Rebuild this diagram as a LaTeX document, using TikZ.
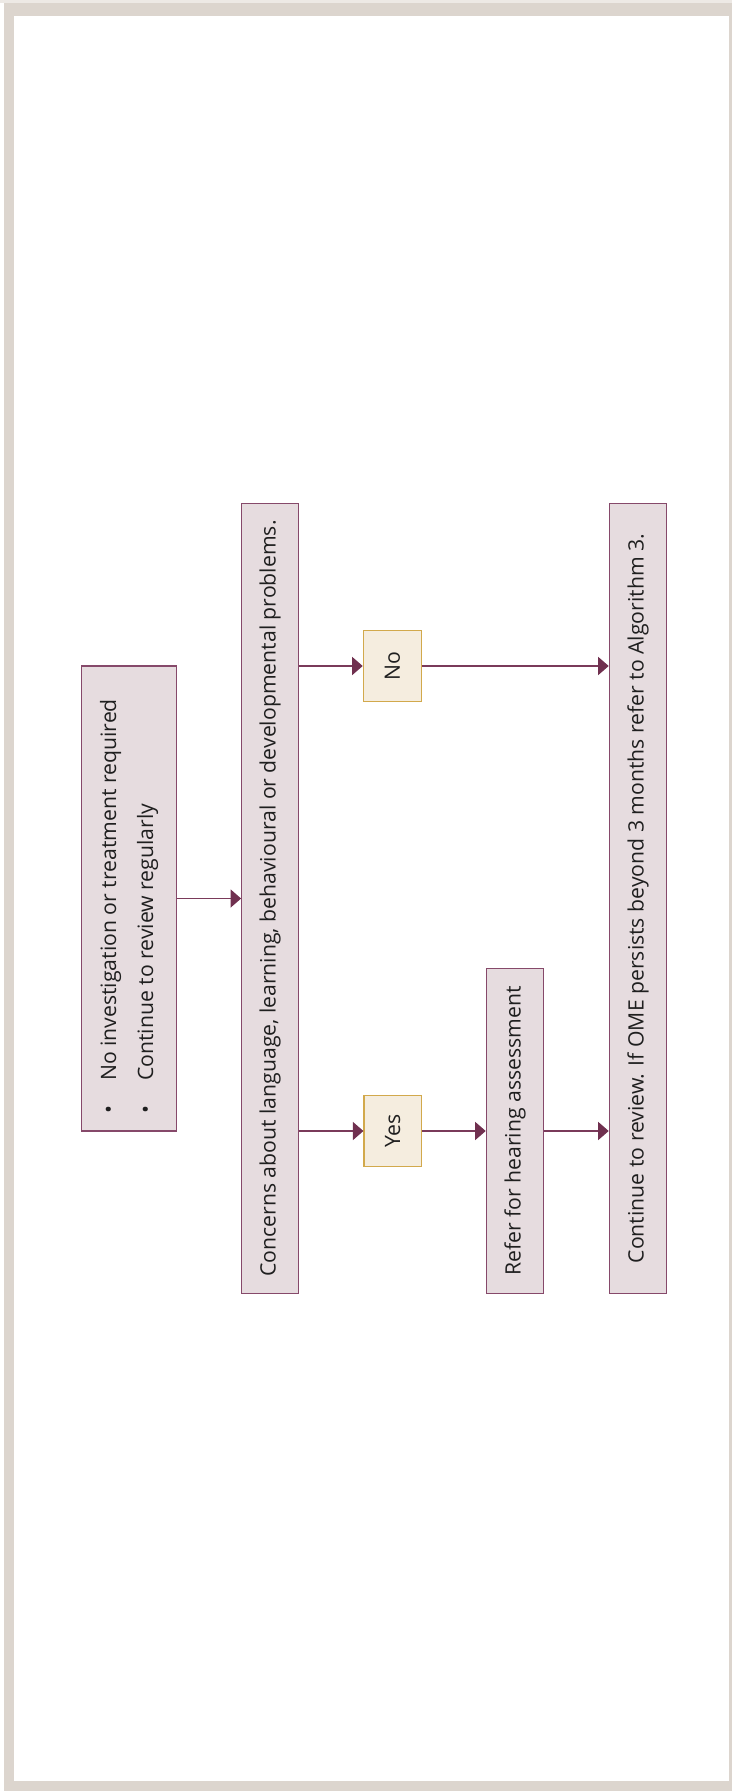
\documentclass[tikz,border=0pt]{standalone}
\usepackage{fontspec}
\setmainfont{Open Sans}
\usetikzlibrary{arrows.meta}

\definecolor{framebg}{HTML}{DCD5CE}
\definecolor{frameedge}{HTML}{EDE9E5}
\definecolor{boxfill}{HTML}{E6DCDF}
\definecolor{boxline}{HTML}{86496A}
\definecolor{decfill}{HTML}{F5EDDF}
\definecolor{decline}{HTML}{D2A94C}
\definecolor{flow}{HTML}{7A3A5A}
\definecolor{tipcol}{HTML}{70304F}

\newcommand{\bulletitem}{\makebox[33pt][l]{\textbullet}}

\begin{document}
\begin{tikzpicture}[x=1pt,y=-1pt,
  every node/.style={font=\fontsize{21.2}{37}\selectfont, text=black!88},
  stepbox/.style={draw=boxline, fill=boxfill, line width=1.2pt, rotate=90, inner sep=0pt},
  decbox/.style={draw=decline, fill=decfill, line width=1.2pt, rotate=90, inner sep=0pt},
  flowline/.style={draw=flow, line width=1.2pt,
    -{Triangle[length=10.5pt,width=18pt,fill=tipcol,color=tipcol]}}]

% page frame
\useasboundingbox (0,0) rectangle (732,1791);
\fill[frameedge] (0,0) rectangle (732,2.7);
\fill[framebg] (4,2.7) rectangle (732,1791);
\fill[white] (13.7,15.7) rectangle (729,1781);

% boxes
\node[stepbox, minimum width=465pt, minimum height=94.3pt, align=left] (adv) at (129,898.5)
  {\bulletitem No investigation or treatment required\hspace*{16pt}\\\bulletitem Continue to review regularly};
\node[stepbox, minimum width=790.4pt, minimum height=57pt] (concern) at (270.2,898.5)
  {Concerns about language, learning, behavioural or developmental problems.};
\node[decbox, minimum width=71.7pt, minimum height=58.4pt] (no) at (392.5,666) {No};
\node[decbox, minimum width=71.7pt, minimum height=57.4pt] (yes) at (392.7,1131) {Yes};
\node[stepbox, minimum width=325.4pt, minimum height=57.4pt] (refer) at (515,1131)
  {Refer for hearing assessment};
\node[stepbox, minimum width=790.4pt, minimum height=57.4pt] (review) at (638,898.5)
  {Continue to review. If OME persists beyond 3 months refer to Algorithm 3.};

% connectors
\draw[flowline] (adv) -- (concern);
\draw[flowline] (concern.south |- no) -- (no);
\draw[flowline] (no) -- (no -| review.north);
\draw[flowline] (concern.south |- yes) -- (yes);
\draw[flowline] (yes) -- (refer);
\draw[flowline] (refer) -- (refer -| review.north);
\end{tikzpicture}
\end{document}
